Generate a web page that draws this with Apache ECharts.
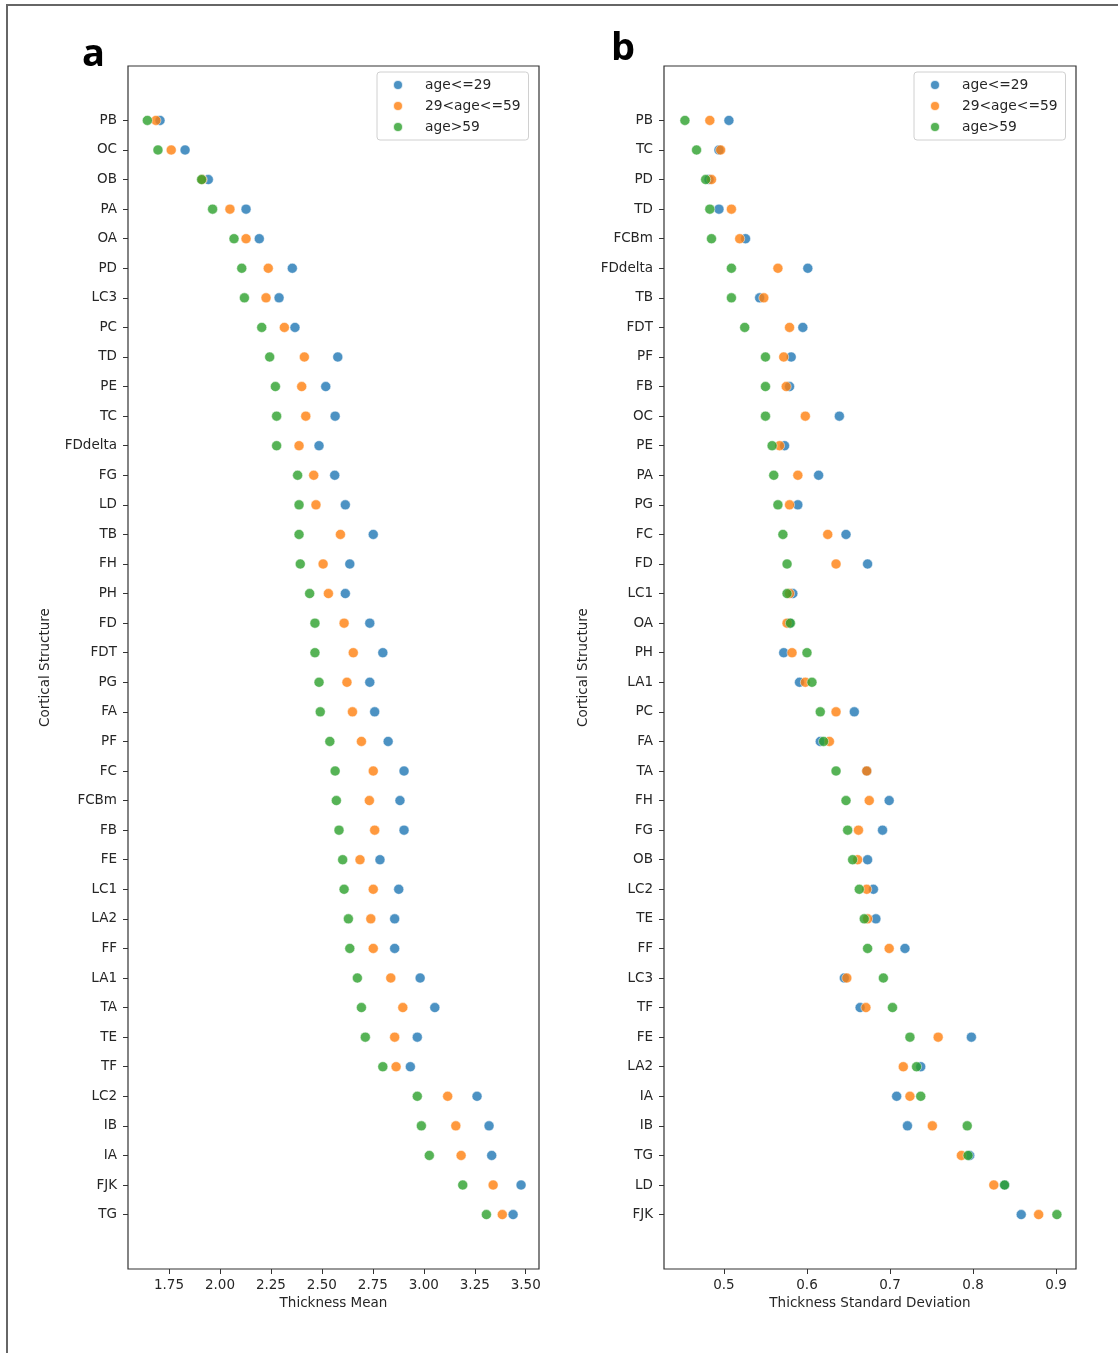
<!DOCTYPE html>
<html>
<head>
<meta charset="utf-8">
<script src="https://cdn.jsdelivr.net/npm/echarts@6/dist/echarts.min.js"></script>
<style>
html,body{margin:0;padding:0;background:#fff;}
#chart{width:1118px;height:1353px;}
</style>
</head>
<body>
<div id="chart"></div>
<script>
// ---- Data ----
const seriesNames = ['age<=29', '29<age<=59', 'age>59'];

const catsA = ['PB','OC','OB','PA','OA','PD','LC3','PC','TD','PE','TC','FDdelta','FG','LD','TB','FH','PH','FD','FDT','PG','FA','PF','FC','FCBm','FB','FE','LC1','LA2','FF','LA1','TA','TE','TF','LC2','IB','IA','FJK','TG'];
const meanYoung = [1.706,1.829,1.943,2.128,2.193,2.355,2.290,2.368,2.578,2.519,2.565,2.486,2.563,2.615,2.752,2.637,2.615,2.735,2.799,2.735,2.759,2.825,2.903,2.883,2.903,2.785,2.877,2.857,2.857,2.982,3.054,2.968,2.934,3.261,3.320,3.333,3.477,3.438];
const meanMid = [1.686,1.761,1.913,2.049,2.128,2.237,2.226,2.316,2.414,2.401,2.421,2.388,2.460,2.471,2.591,2.506,2.532,2.609,2.654,2.623,2.650,2.694,2.752,2.733,2.759,2.687,2.752,2.740,2.752,2.838,2.897,2.857,2.864,3.117,3.157,3.183,3.340,3.385];
const meanOld = [1.644,1.696,1.910,1.964,2.069,2.107,2.120,2.205,2.244,2.272,2.278,2.278,2.381,2.388,2.388,2.394,2.440,2.466,2.466,2.486,2.492,2.539,2.565,2.571,2.584,2.602,2.609,2.630,2.637,2.674,2.694,2.713,2.799,2.968,2.988,3.027,3.191,3.307];

const catsB = ['PB','TC','PD','TD','FCBm','FDdelta','TB','FDT','PF','FB','OC','PE','PA','PG','FC','FD','LC1','OA','PH','LA1','PC','FA','TA','FH','FG','OB','LC2','TE','FF','LC3','TF','FE','LA2','IA','IB','TG','LD','FJK'];
const sdYoung = [0.506,0.494,0.482,0.494,0.526,0.601,0.543,0.595,0.581,0.579,0.639,0.573,0.614,0.589,0.647,0.673,0.583,0.579,0.572,0.591,0.657,0.616,0.672,0.699,0.691,0.673,0.680,0.683,0.718,0.645,0.664,0.798,0.737,0.708,0.721,0.796,0.838,0.858];
const sdMid = [0.483,0.496,0.485,0.509,0.519,0.565,0.548,0.579,0.572,0.575,0.598,0.567,0.589,0.579,0.625,0.635,0.579,0.576,0.582,0.598,0.635,0.627,0.672,0.675,0.662,0.661,0.672,0.673,0.699,0.648,0.671,0.758,0.716,0.724,0.751,0.786,0.825,0.879];
const sdOld = [0.453,0.467,0.478,0.483,0.485,0.509,0.509,0.525,0.550,0.550,0.550,0.558,0.560,0.565,0.571,0.576,0.576,0.580,0.600,0.606,0.616,0.620,0.635,0.647,0.649,0.655,0.663,0.669,0.673,0.692,0.703,0.724,0.732,0.737,0.793,0.794,0.838,0.901];

const ticksA = [1.75, 2.00, 2.25, 2.50, 2.75, 3.00, 3.25, 3.50];
const ticksB = [0.5, 0.6, 0.7, 0.8, 0.9];

// ---- Styling ----
const colors = ['#1f77b4', '#ff7f0e', '#2ca02c'];
const FONT = 'DejaVu Sans';
const TXT = '#262626';
const idx = catsA.map((_, i) => i);

function pts(vals) { return vals.map((v, i) => [v, i]); }

function yAxis(gridIndex, cats, gap) {
  return {
    type: 'value', gridIndex, inverse: true, min: -1.84, max: cats.length - 1 + 1.84,
    name: 'Cortical Structure', nameLocation: 'middle', nameGap: gap,
    nameTextStyle: { fontFamily: FONT, fontSize: 13.5, color: TXT },
    axisLine: { show: false, onZero: false }, splitLine: { show: false },
    axisTick: { show: true, customValues: idx, length: 5, lineStyle: { color: '#333', width: 1 } },
    axisLabel: { customValues: idx, margin: 11, fontFamily: FONT, fontSize: 13.5, color: TXT,
      formatter: v => cats[Math.round(v)] }
  };
}
function xAxis(gridIndex, min, max, ticks, dec, name) {
  return {
    type: 'value', gridIndex, min, max, position: 'bottom',
    name, nameLocation: 'middle', nameGap: 27,
    nameTextStyle: { fontFamily: FONT, fontSize: 13.5, color: TXT },
    axisLine: { show: false, onZero: false }, splitLine: { show: false },
    axisTick: { show: true, customValues: ticks, length: 5, lineStyle: { color: '#333', width: 1 } },
    axisLabel: { customValues: ticks, margin: 9, fontFamily: FONT, fontSize: 13.5, color: TXT,
      formatter: v => Number(v).toFixed(dec) }
  };
}
function sc(name, xi, data, c) {
  return {
    type: 'scatter', name, xAxisIndex: xi, yAxisIndex: xi, data: pts(data),
    symbol: 'circle', symbolSize: 10,
    itemStyle: { color: c, opacity: 0.8, borderColor: '#fff', borderWidth: 0.6 },
    emphasis: { disabled: true }
  };
}
function legend(left) {
  return {
    data: seriesNames, orient: 'vertical', left, top: 72,
    icon: 'circle', itemWidth: 10, itemHeight: 10, itemGap: 7,
    padding: [6, 8, 6, 15],
    backgroundColor: 'rgba(255,255,255,0.8)', borderColor: '#d0d0d0', borderWidth: 1, borderRadius: 3,
    textStyle: { fontFamily: FONT, fontSize: 13.8, color: TXT, lineHeight: 14, padding: [0, 0, 0, 17] },
    itemStyle: { opacity: 0.8 }, selectedMode: false
  };
}

const chart = echarts.init(document.getElementById('chart'), null, { renderer: 'canvas' });
chart.setOption({
  animation: false,
  backgroundColor: '#fff',
  grid: [
    { left: 128, top: 66, width: 411, height: 1203, show: true, borderColor: '#333', borderWidth: 1.2, backgroundColor: 'transparent' },
    { left: 664, top: 66, width: 412, height: 1203, show: true, borderColor: '#333', borderWidth: 1.2, backgroundColor: 'transparent' }
  ],
  xAxis: [
    xAxis(0, 1.549, 3.565, ticksA, 2, 'Thickness Mean'),
    xAxis(1, 0.4278, 0.924, ticksB, 1, 'Thickness Standard Deviation')
  ],
  yAxis: [ yAxis(0, catsA, 76), yAxis(1, catsB, 74) ],
  legend: [ legend(377), legend(914) ],
  series: [
    sc(seriesNames[0], 0, meanYoung, colors[0]),
    sc(seriesNames[1], 0, meanMid, colors[1]),
    sc(seriesNames[2], 0, meanOld, colors[2]),
    sc(seriesNames[0], 1, sdYoung, colors[0]),
    sc(seriesNames[1], 1, sdMid, colors[1]),
    sc(seriesNames[2], 1, sdOld, colors[2])
  ],
  graphic: [
    { type: 'rect', shape: { x: 7, y: 5, width: 1300, height: 1500 }, style: { fill: 'none', stroke: '#666', lineWidth: 2 }, silent: true },
    { type: 'text', x: 82, y: 36, style: { text: 'a', font: 'bold 38px "Open Sans"', fill: '#000' }, silent: true },
    { type: 'text', x: 611, y: 30, style: { text: 'b', font: 'bold 38px "Open Sans"', fill: '#000' }, silent: true }
  ]
});
</script>
</body>
</html>
